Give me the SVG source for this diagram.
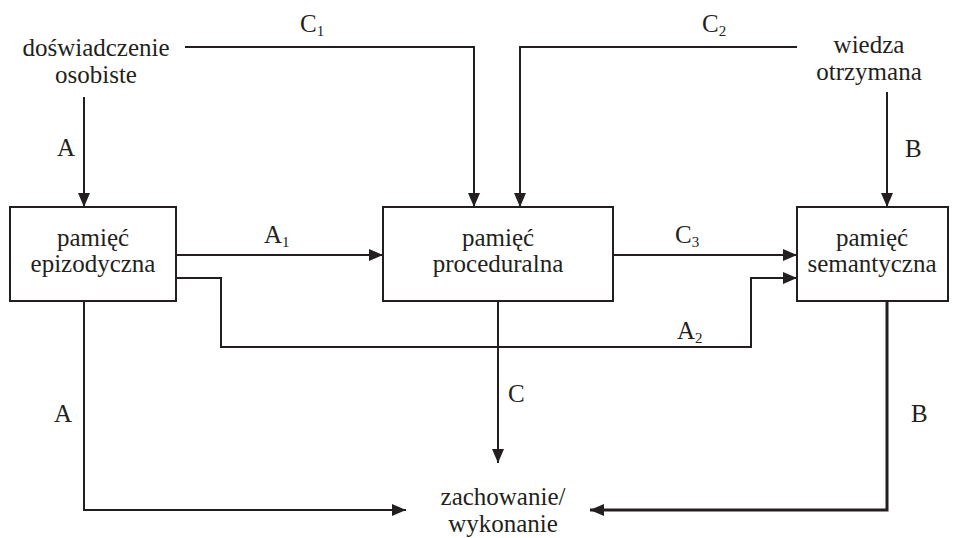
<svg xmlns="http://www.w3.org/2000/svg" width="958" height="538" viewBox="0 0 958 538">
<style>
text{font-family:"Liberation Serif","DejaVu Serif","Times New Roman",serif;font-size:25px;fill:#231f20}
.c{text-anchor:middle}
.s{font-size:15px}
.box{fill:#fff;stroke:#231f20;stroke-width:2}
.ln{fill:none;stroke:#231f20;stroke-width:2}
.thick{stroke-width:3}
</style>
<defs>
<marker id="ah" viewBox="0 0 14 12" refX="14" refY="6" markerWidth="14" markerHeight="12" markerUnits="userSpaceOnUse" orient="auto">
<path d="M0,0L14,6L0,12Z" fill="#231f20"/>
</marker>
</defs>
<rect width="958" height="538" fill="#fff"/>
<g id="connectors">
<path class="ln" d="M185,47H474V207" marker-end="url(#ah)"/>
<path class="ln" d="M797,47H520V207" marker-end="url(#ah)"/>
<path class="ln" d="M84,97V207" marker-end="url(#ah)"/>
<path class="ln" d="M887,92V207" marker-end="url(#ah)"/>
<path class="ln" d="M176,255H383" marker-end="url(#ah)"/>
<path class="ln" d="M613,255H797" marker-end="url(#ah)"/>
<path class="ln" d="M176,278H221V347H751V278H797" marker-end="url(#ah)"/>
<path class="ln" d="M498,301V463" marker-end="url(#ah)"/>
<path class="ln" d="M84,301V510H406" marker-end="url(#ah)"/>
<path class="ln thick" d="M887,301V510H590" marker-end="url(#ah)"/>
<text x="300" y="32">C<tspan class="s" dy="4">1</tspan></text>
<text x="702" y="32">C<tspan class="s" dy="4">2</tspan></text>
<text x="57" y="156">A</text>
<text x="905" y="157">B</text>
<text x="264" y="243">A<tspan class="s" dy="4">1</tspan></text>
<text x="675" y="243">C<tspan class="s" dy="4">3</tspan></text>
<text x="677" y="339">A<tspan class="s" dy="4">2</tspan></text>
<text x="508" y="402">C</text>
<text x="54" y="422">A</text>
<text x="911" y="422">B</text>
</g>
<g id="n-doswiadczenie">
<text class="c" x="96" y="56">doświadczenie</text>
<text class="c" x="96" y="83">osobiste</text>
</g>
<g id="n-wiedza">
<text class="c" x="869" y="53">wiedza</text>
<text class="c" x="869" y="80">otrzymana</text>
</g>
<g id="n-epizodyczna">
<rect class="box" x="10" y="207" width="166" height="94"/>
<text class="c" x="93" y="246">pamięć</text>
<text class="c" x="93" y="272">epizodyczna</text>
</g>
<g id="n-proceduralna">
<rect class="box" x="383" y="207" width="230" height="94"/>
<text class="c" x="498" y="246">pamięć</text>
<text class="c" x="498" y="272">proceduralna</text>
</g>
<g id="n-semantyczna">
<rect class="box" x="797" y="207" width="151" height="94"/>
<text class="c" x="872" y="246">pamięć</text>
<text class="c" x="872" y="272">semantyczna</text>
</g>
<g id="n-zachowanie">
<text class="c" x="503" y="505">zachowanie/</text>
<text class="c" x="503" y="532">wykonanie</text>
</g>
</svg>
